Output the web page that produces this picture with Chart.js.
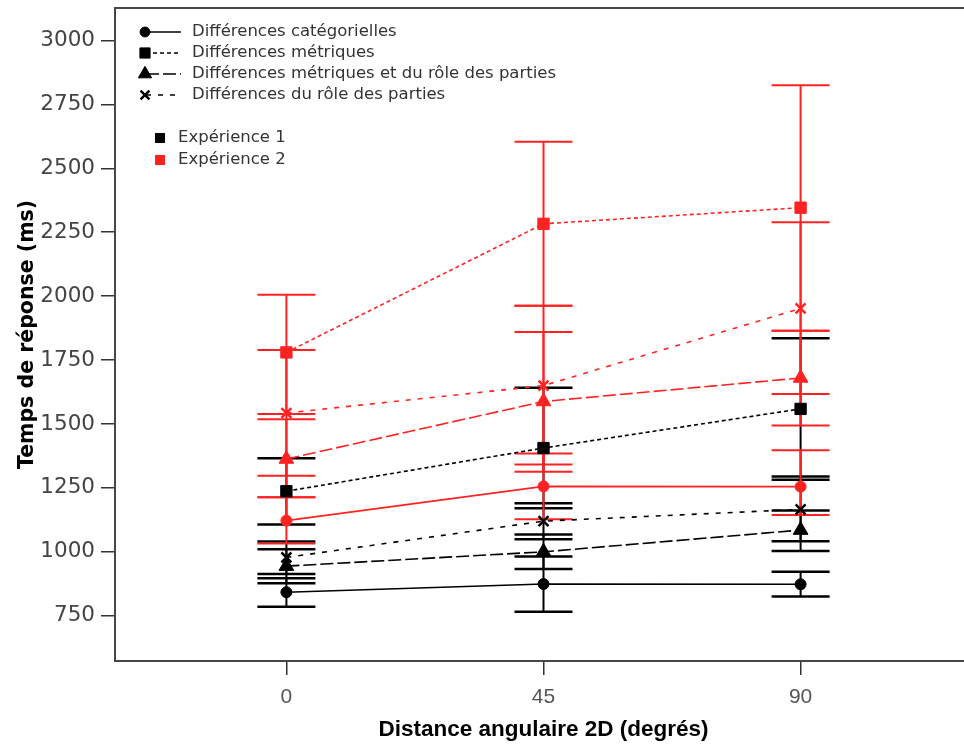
<!DOCTYPE html>
<html>
<head>
<meta charset="utf-8">
<script src="https://cdn.jsdelivr.net/npm/chart.js@4.4.1/dist/chart.umd.min.js"></script>
<style>
  html, body { margin: 0; padding: 0; background: #fff; overflow: hidden; }
  #wrap { width: 980px; height: 744px; }
</style>
</head>
<body>
<div id="wrap"><canvas id="rtChart" width="980" height="744"></canvas></div>
<script>
const angles = [0, 45, 90];
const yTicks = [750, 1000, 1250, 1500, 1750, 2000, 2250, 2500, 2750, 3000];

const conditionNames = [
  'Différences catégorielles',
  'Différences métriques',
  'Différences métriques et du rôle des parties',
  'Différences du rôle des parties'
];
const expNames = ['Expérience 1', 'Expérience 2'];

// Expérience 1 : moyennes et bornes des barres d'erreur
const exp1Cat = [842, 874, 873];
const exp1CatLo = [785, 766, 825];
const exp1CatHi = [897, 982, 922];
const exp1Met = [1237, 1406, 1559];
const exp1MetLo = [1107, 1170, 1282];
const exp1MetHi = [1366, 1642, 1835];
const exp1MetRole = [944, 1000, 1085];
const exp1MetRoleLo = [877, 933, 1003];
const exp1MetRoleHi = [1010, 1068, 1162];
const exp1Role = [978, 1120, 1166];
const exp1RoleLo = [913, 1049, 1041];
const exp1RoleHi = [1040, 1190, 1295];

// Expérience 2
const exp2Cat = [1122, 1256, 1255];
const exp2CatLo = [1033, 1127, 1144];
const exp2CatHi = [1213, 1385, 1397];
const exp2Met = [1780, 2283, 2346];
const exp2MetLo = [1539, 1962, 1865];
const exp2MetHi = [2005, 2604, 2825];
const exp2MetRole = [1363, 1588, 1680];
const exp2MetRoleLo = [1213, 1313, 1494];
const exp2MetRoleHi = [1519, 1860, 1865];
const exp2Role = [1543, 1650, 1952];
const exp2RoleLo = [1298, 1342, 1617];
const exp2RoleHi = [1789, 1962, 2289];

const BLACK = '#000000';
const RED = '#ff2222';

// line style + marker for each condition
const styles = [
  { dash: [], pointStyle: 'circle', radius: 5.5 },
  { dash: [4, 3], pointStyle: 'rect', radius: 8 },
  { dash: [13, 4], pointStyle: 'triangle', radius: 8.5 },
  { dash: [5, 7], pointStyle: 'crossRot', radius: 7 }
];

function meanSet(label, values, color, st) {
  return {
    label: label,
    data: angles.map((a, i) => ({ x: a, y: values[i] })),
    showLine: true,
    borderColor: color,
    backgroundColor: color,
    borderWidth: 1.6,
    borderDash: st.dash,
    pointStyle: st.pointStyle,
    pointRadius: st.radius,
    pointBorderWidth: st.pointStyle === 'crossRot' ? 2.5 : 1,
    pointBorderColor: color,
    pointBackgroundColor: color
  };
}

function errorSet(label, lo, hi, color, capWidth) {
  const pts = [];
  angles.forEach((a, i) => {
    pts.push({ x: a, y: lo[i] }, { x: a, y: hi[i] }, { x: a, y: null });
  });
  return {
    label: label,
    data: pts,
    showLine: true,
    spanGaps: false,
    borderColor: color,
    borderWidth: 2,
    pointStyle: 'line',
    pointRadius: 29,
    pointBorderWidth: capWidth,
    pointBorderColor: color
  };
}

const datasets = [
  meanSet('e2-cat', exp2Cat, RED, styles[0]),
  meanSet('e2-met', exp2Met, RED, styles[1]),
  meanSet('e2-metrole', exp2MetRole, RED, styles[2]),
  meanSet('e2-role', exp2Role, RED, styles[3]),
  meanSet('e1-cat', exp1Cat, BLACK, styles[0]),
  meanSet('e1-met', exp1Met, BLACK, styles[1]),
  meanSet('e1-metrole', exp1MetRole, BLACK, styles[2]),
  meanSet('e1-role', exp1Role, BLACK, styles[3]),
  errorSet('e2-cat-err', exp2CatLo, exp2CatHi, RED, 2),
  errorSet('e2-met-err', exp2MetLo, exp2MetHi, RED, 2),
  errorSet('e2-metrole-err', exp2MetRoleLo, exp2MetRoleHi, RED, 2),
  errorSet('e2-role-err', exp2RoleLo, exp2RoleHi, RED, 2),
  errorSet('e1-cat-err', exp1CatLo, exp1CatHi, BLACK, 2.5),
  errorSet('e1-met-err', exp1MetLo, exp1MetHi, BLACK, 2.5),
  errorSet('e1-metrole-err', exp1MetRoleLo, exp1MetRoleHi, BLACK, 2.5),
  errorSet('e1-role-err', exp1RoleLo, exp1RoleHi, BLACK, 2.5)
];

// box around the plot area (top/right sides are not drawn by the axes)
const framePlugin = {
  id: 'frame',
  beforeDatasetsDraw(chart) {
    const { ctx, chartArea: a } = chart;
    ctx.save();
    ctx.strokeStyle = '#474747';
    ctx.lineWidth = 2;
    ctx.strokeRect(a.left, a.top, a.right - a.left, a.bottom - a.top);
    ctx.restore();
  }
};

// legend drawn in the upper-left corner of the plot
const legendPlugin = {
  id: 'cornerLegend',
  afterDraw(chart) {
    const ctx = chart.ctx;
    ctx.save();
    ctx.font = '16.5px "DejaVu Sans", sans-serif';
    ctx.textBaseline = 'middle';
    const rowY = [32, 53, 74, 95];
    conditionNames.forEach((name, i) => {
      const st = styles[i];
      const y = rowY[i];
      ctx.strokeStyle = '#000';
      ctx.lineWidth = 1.6;
      ctx.setLineDash(st.dash);
      ctx.beginPath();
      ctx.moveTo(146, y);
      ctx.lineTo(181, y);
      ctx.stroke();
      ctx.setLineDash([]);
      ctx.fillStyle = '#000';
      ctx.lineWidth = st.pointStyle === 'crossRot' ? 2.5 : 1;
      Chart.helpers.drawPoint(ctx, { pointStyle: st.pointStyle, radius: st.radius * 0.9, rotation: 0, borderWidth: ctx.lineWidth }, 145, y);
      ctx.fillStyle = '#333';
      ctx.fillText(name, 192, y);
    });
    const expY = [138, 160];
    const expColors = [BLACK, RED];
    expNames.forEach((name, i) => {
      ctx.fillStyle = expColors[i];
      ctx.fillRect(155, expY[i] - 5, 10, 10);
      ctx.fillStyle = '#333';
      ctx.fillText(name, 178, expY[i]);
    });
    ctx.restore();
  }
};

new Chart(document.getElementById('rtChart'), {
  type: 'scatter',
  data: { datasets: datasets },
  plugins: [framePlugin, legendPlugin],
  options: {
    responsive: false,
    animation: false,
    layout: { autoPadding: false, padding: { top: 8, right: 8, left: 0, bottom: 0 } },
    plugins: { legend: { display: false }, tooltip: { enabled: false } },
    scales: {
      x: {
        type: 'linear',
        min: -30,
        max: 120,
        afterBuildTicks: (s) => { s.ticks = angles.map(v => ({ value: v })); },
        afterFit: (s) => { s.height = 83; s.paddingLeft = 0; s.paddingRight = 0; },
        grid: { drawOnChartArea: false, drawTicks: true, tickLength: 14, color: '#333', lineWidth: 1.5 },
        border: { display: true, color: '#474747', width: 2 },
        ticks: {
          color: '#555',
          padding: 10,
          font: { family: '"Liberation Sans Narrow", "Liberation Sans", sans-serif', size: 21 },
          callback: (v) => String(v)
        },
        title: {
          display: true,
          text: 'Distance angulaire 2D (degrés)',
          color: '#000',
          padding: { top: 0, bottom: 1 },
          font: { family: '"Liberation Sans Narrow", "Liberation Sans", sans-serif', size: 22.5, weight: 'bold' }
        }
      },
      y: {
        min: 573,
        max: 3127,
        afterBuildTicks: (s) => { s.ticks = yTicks.map(v => ({ value: v })); },
        afterFit: (s) => { s.width = 115; s.paddingTop = 0; s.paddingBottom = 0; },
        grid: { drawOnChartArea: false, drawTicks: true, tickLength: 14, color: '#333', lineWidth: 1.5 },
        border: { display: true, color: '#474747', width: 2 },
        ticks: {
          color: '#444',
          padding: 6,
          font: { family: '"DejaVu Sans", sans-serif', size: 21.5 },
          callback: (v) => String(v)
        },
        title: {
          display: true,
          text: 'Temps de réponse (ms)',
          color: '#000',
          padding: { top: 15, bottom: 0 },
          font: { family: '"DejaVu Sans", sans-serif', size: 20.5, weight: 'bold' }
        }
      }
    }
  }
});
</script>
</body>
</html>
